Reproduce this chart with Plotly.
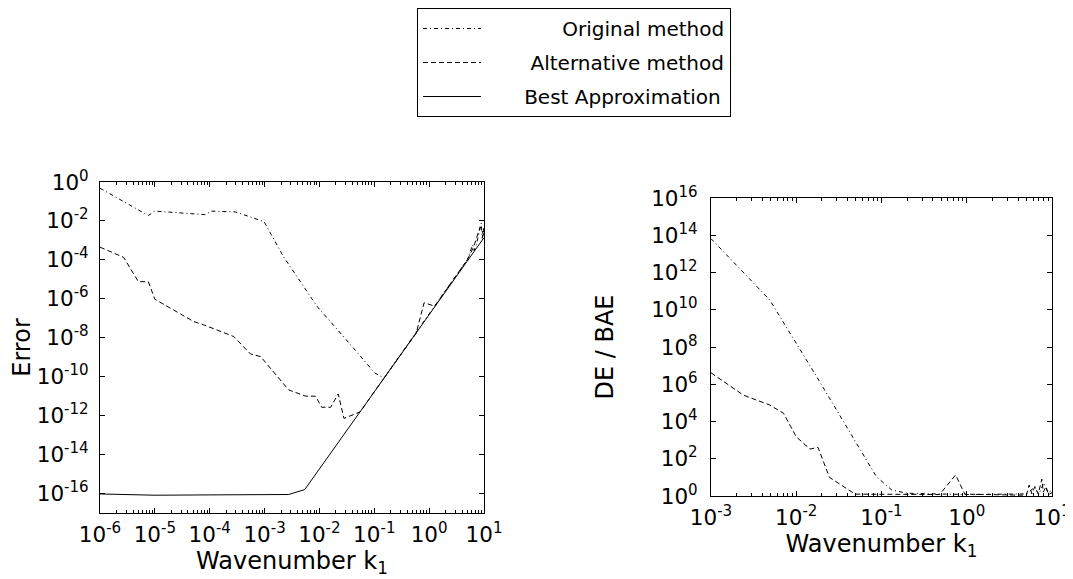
import plotly.graph_objects as go

# ---- left panel: absolute error vs wavenumber ----
k_orig = [1e-6, 7.6e-6, 1.0e-5, 8.3e-5, 1.07e-4, 2.95e-4, 5.9e-4, 9.8e-4, 2.2e-3,
          9.1e-3, 3.7e-2, 1.02e-1, 1.5e-1, 1.0, 5.0, 6.2, 6.6, 7.3, 8.9, 9.3, 9.8, 10.0]
err_orig = [4.8e-1, 1.9e-2, 3.2e-2, 2.1e-2, 3.2e-2, 2.9e-2, 1.5e-2, 9.1e-3, 1.5e-4,
            4.0e-7, 4.4e-9, 1.55e-10, 8.5e-11, 1.7e-7, 1.05e-4, 5.9e-4, 3.0e-4, 6.5e-4,
            7.6e-3, 1.3e-3, 4.3e-3, 1.5e-3]

k_alt = [1e-6, 2.7e-6, 5.0e-6, 7.6e-6, 1.0e-5, 5.1e-5, 7.8e-5, 2.75e-4, 5.5e-4, 8.5e-4,
         2.75e-3, 4.6e-3, 5.6e-3, 8.5e-3, 1.1e-2, 1.6e-2, 2.2e-2, 2.8e-2, 5.6e-2, 1.0e-1,
         3.2e-1, 5.8e-1, 8.1e-1, 1.26, 5.0, 6.3, 7.1, 8.5, 10.0]
err_alt = [4.5e-4, 1.35e-4, 7.6e-6, 7.6e-6, 9.5e-7, 6.8e-8, 4.6e-8, 1.15e-8, 1.5e-9, 1.07e-9,
           2.1e-11, 1.15e-11, 1.0e-11, 1.0e-11, 2.7e-12, 2.7e-12, 1.3e-11, 7.2e-13, 1.6e-12, 1.7e-11,
           1.7e-9, 1.7e-8, 6.3e-7, 4.2e-7, 1.05e-4, 4.0e-4, 1.0e-3, 5.0e-3, 1.8e-3]

k_best = [1e-6, 1e-5, 1e-4, 1e-3, 2.75e-3, 5.4e-3, 5.6e-2, 1.0, 10.0]
err_best = [9.5e-17, 8.2e-17, 8.5e-17, 8.5e-17, 8.9e-17, 1.6e-16, 1.66e-12, 1.66e-7, 1.4e-3]

# ---- right panel: ratio to best approximation error ----
k_ratio_orig = [1e-3, 4.9e-3, 1.74e-2, 4.3e-2, 8.7e-2, 1.32e-1, 0.2, 1.0, 5.0,
                6.3, 7.0, 8.0, 9.0, 10.0]
ratio_orig = [6.6e13, 3.3e10, 2.5e6, 2.3e3, 11.0, 2.1, 1.4, 1.2, 1.3,
              3.0, 1.2, 5.0, 1.5, 2.0]

k_ratio_alt = [1e-3, 2.4e-3, 4.9e-3, 7.1e-3, 1.0e-2, 1.45e-2, 1.8e-2, 2.45e-2, 4.9e-2,
               4.8e-1, 7.4e-1, 9.5e-1, 5.0, 5.4, 5.8, 6.3, 6.9, 7.6, 7.9, 8.5, 9.1, 10.0]
ratio_alt = [4.1e6, 2.6e5, 7.6e4, 2.75e4, 1.5e3, 3.3e2, 4.1e2, 10.0, 1.26,
             1.2, 13.5, 1.26, 1.1, 3.9, 1.3, 3.2, 1.3, 8.1, 1.6, 3.2, 1.2, 1.5]

# tick labels
left_xvals = [1e-6, 1e-5, 1e-4, 1e-3, 1e-2, 1e-1, 1, 10]
left_xtext = ["10<sup>-6</sup>", "10<sup>-5</sup>", "10<sup>-4</sup>", "10<sup>-3</sup>",
              "10<sup>-2</sup>", "10<sup>-1</sup>", "10<sup>0</sup>", "10<sup>1</sup>"]
left_yvals = [10.0 ** p for p in range(0, -17, -2)]
left_ytext = ["10<sup>0</sup>"] + [f"10<sup>-{p}</sup>" for p in range(2, 17, 2)]
right_xvals = [1e-3, 1e-2, 1e-1, 1, 10]
right_xtext = ["10<sup>-3</sup>", "10<sup>-2</sup>", "10<sup>-1</sup>", "10<sup>0</sup>", "10<sup>1</sup>"]
right_yvals = [10.0 ** p for p in range(0, 17, 2)]
right_ytext = [f"10<sup>{p}</sup>" for p in range(0, 17, 2)]

FONT = "DejaVu Sans"
FS = 20
TICK_FS = 21.5
ORIG_DASH = "4px,3px,1px,3px"
ALT_DASH = "5px,3px"
NB = "\u00a0"  # pads legend names so the text sits right-aligned like the original

# the page body adds an 8px margin, so the figure is laid out 8px smaller/shifted
OFF = 8
W, H = 1073 - OFF, 579 - OFF


def xdom(a, b):
    return [(a - OFF) / W, (b - OFF) / W]


def ydom(top, bottom):
    return [1 - (bottom - OFF) / H, 1 - (top - OFF) / H]


fig = go.Figure()

fig.add_trace(go.Scatter(x=k_orig, y=err_orig, mode="lines", name=NB * 12 + "Original method",
                         legendgroup="a", line=dict(color="black", width=1, dash=ORIG_DASH)))
fig.add_trace(go.Scatter(x=k_alt, y=err_alt, mode="lines", name=NB * 7 + "Alternative method",
                         legendgroup="b", line=dict(color="black", width=1, dash=ALT_DASH)))
fig.add_trace(go.Scatter(x=k_best, y=err_best, mode="lines", name=NB * 6 + "Best Approximation",
                         legendgroup="c", line=dict(color="black", width=1)))

fig.add_trace(go.Scatter(x=k_ratio_orig, y=ratio_orig, mode="lines", showlegend=False,
                         xaxis="x2", yaxis="y2",
                         line=dict(color="black", width=1, dash=ORIG_DASH)))
fig.add_trace(go.Scatter(x=k_ratio_alt, y=ratio_alt, mode="lines", showlegend=False,
                         xaxis="x2", yaxis="y2",
                         line=dict(color="black", width=1, dash=ALT_DASH)))

axis_common = dict(
    type="log", showgrid=False, zeroline=False, showline=True, linecolor="black",
    linewidth=1, mirror="allticks", ticks="inside", ticklen=5, tickcolor="black",
    tickmode="array", automargin=False,
    tickfont=dict(size=TICK_FS, color="black", family=FONT),
)
minor_x = dict(ticks="inside", ticklen=3, tickcolor="black", dtick="D1", showgrid=False)

fig.update_layout(
    template="none",
    width=W, height=H,
    margin=dict(l=0, r=0, t=0, b=0),
    paper_bgcolor="white", plot_bgcolor="white",
    font=dict(family=FONT, size=FS, color="black"),
    xaxis=dict(axis_common, domain=xdom(100, 484), range=[-6, 1], anchor="y",
               tickvals=left_xvals, ticktext=left_xtext, minor=minor_x, ticklabelstandoff=2,
               title=dict(text="Wavenumber k<sub>1</sub>", standoff=0)),
    yaxis=dict(axis_common, domain=ydom(182, 513), range=[-17, 0], anchor="x",
               tickvals=left_yvals, ticktext=left_ytext, ticklabelstandoff=6,
               title=dict(text="Error", standoff=13)),
    xaxis2=dict(axis_common, domain=xdom(711, 1052), range=[-3, 1], anchor="y2",
                tickvals=right_xvals, ticktext=right_xtext, minor=minor_x, ticklabelstandoff=2,
                title=dict(text="Wavenumber k<sub>1</sub>", standoff=3)),
    yaxis2=dict(axis_common, domain=ydom(198, 496), range=[0, 16], anchor="x2",
                tickvals=right_yvals, ticktext=right_ytext, ticklabelstandoff=8,
                title=dict(text="DE / BAE", standoff=30)),
    showlegend=True,
    legend=dict(x=(417 - OFF) / W, xanchor="left", y=1.0, yanchor="top",
                bordercolor="black", borderwidth=1, bgcolor="white",
                font=dict(size=FS, family=FONT), tracegroupgap=5,
                itemwidth=58),
)

fig.write_html("out.html")
